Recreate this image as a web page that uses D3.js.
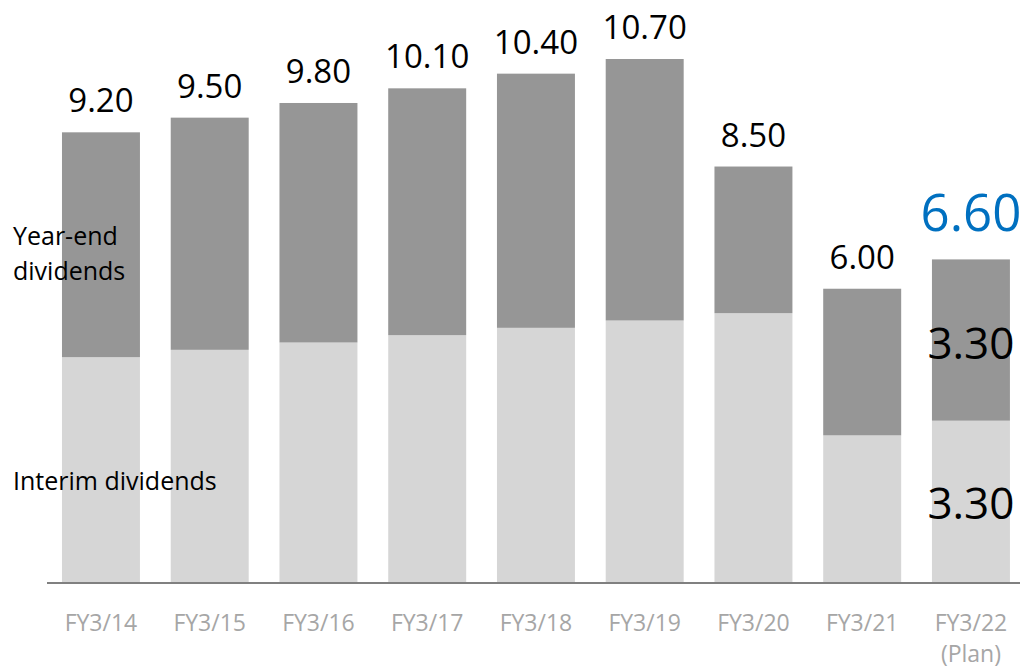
<!DOCTYPE html>
<html lang="en">
<head>
<meta charset="utf-8">
<title>Dividends per share</title>
<script src="https://d3js.org/d3.v7.min.js"></script>
<style>
  body { margin: 0; background: #fff; }
  svg text { font-family: "Open Sans", sans-serif; }
</style>
</head>
<body>
<div id="chart"></div>
<script>
// data
var years = ["FY3/14", "FY3/15", "FY3/16", "FY3/17", "FY3/18", "FY3/19", "FY3/20", "FY3/21", "FY3/22"];
var interim = [4.60, 4.75, 4.90, 5.05, 5.20, 5.35, 5.50, 3.00, 3.30];
var yearEnd = [4.60, 4.75, 4.90, 5.05, 5.20, 5.35, 3.00, 3.00, 3.30];
var totals = ["9.20", "9.50", "9.80", "10.10", "10.40", "10.70", "8.50", "6.00", "6.60"];

var width = 1025, height = 671;

var svg = d3.select("#chart")
  .append("svg")
    .attr("width", width)
    .attr("height", height);

// x: 9 bands, step ~108.75, bar ~78 wide
var x = d3.scaleBand()
  .domain(years)
  .range([31.2, 1040.7])
  .padding(0.283);

var y = d3.scaleLinear()
  .domain([0, 10.7])
  .range([582, 59]);

var rows = years.map(function(d, i) {
  return { year: d, interim: interim[i], yearEnd: yearEnd[i], total: totals[i] };
});

// interim part
svg.selectAll(".interim")
  .data(rows)
  .enter()
  .append("rect")
    .attr("x", function(d) { return x(d.year); })
    .attr("y", function(d) { return y(d.interim); })
    .attr("width", x.bandwidth())
    .attr("height", function(d) { return y(0) - y(d.interim); })
    .attr("fill", "#d6d6d6");

// year-end part
svg.selectAll(".yearend")
  .data(rows)
  .enter()
  .append("rect")
    .attr("x", function(d) { return x(d.year); })
    .attr("y", function(d) { return y(d.interim + d.yearEnd); })
    .attr("width", x.bandwidth())
    .attr("height", function(d) { return y(d.interim) - y(d.interim + d.yearEnd); })
    .attr("fill", "#969696");

// baseline
svg.append("line")
  .attr("x1", 47).attr("x2", 1020)
  .attr("y1", y(0) + 1).attr("y2", y(0) + 1)
  .attr("stroke", "#808080")
  .attr("stroke-width", 2);

// total labels
var last = years[years.length - 1];
svg.selectAll(".total")
  .data(rows)
  .enter()
  .append("text")
    .attr("x", function(d) { return x(d.year) + x.bandwidth() / 2; })
    .attr("y", function(d) { return y(d.interim + d.yearEnd) - (d.year === last ? 28 : 20); })
    .attr("text-anchor", "middle")
    .style("font-size", function(d) { return d.year === last ? "51px" : "33px"; })
    .style("fill", function(d) { return d.year === last ? "#0070c0" : "#000"; })
    .text(function(d) { return d.total; });

// inner labels of the plan year
var plan = rows[rows.length - 1];
svg.append("text")
  .attr("x", x(plan.year) + x.bandwidth() / 2)
  .attr("y", (y(plan.interim) + y(plan.interim + plan.yearEnd)) / 2 + 19)
  .attr("text-anchor", "middle")
  .style("font-size", "44px")
  .text(plan.yearEnd.toFixed(2));
svg.append("text")
  .attr("x", x(plan.year) + x.bandwidth() / 2)
  .attr("y", (y(0) + y(plan.interim)) / 2 + 18)
  .attr("text-anchor", "middle")
  .style("font-size", "44px")
  .text(plan.interim.toFixed(2));

// category labels
svg.selectAll(".cat")
  .data(years)
  .enter()
  .append("text")
    .attr("x", function(d) { return x(d) + x.bandwidth() / 2; })
    .attr("y", 631)
    .attr("text-anchor", "middle")
    .style("font-size", "23px")
    .style("fill", "#a6a6a6")
    .text(function(d) { return d; });
svg.append("text")
  .attr("x", x(last) + x.bandwidth() / 2)
  .attr("y", 662)
  .attr("text-anchor", "middle")
  .style("font-size", "23px")
  .style("fill", "#a6a6a6")
  .text("(Plan)");

// series labels
svg.append("text").attr("x", 13).attr("y", 245).style("font-size", "25px").text("Year-end");
svg.append("text").attr("x", 13).attr("y", 280).style("font-size", "25px").text("dividends");
svg.append("text").attr("x", 13).attr("y", 490).style("font-size", "25px").text("Interim dividends");
</script>
</body>
</html>
